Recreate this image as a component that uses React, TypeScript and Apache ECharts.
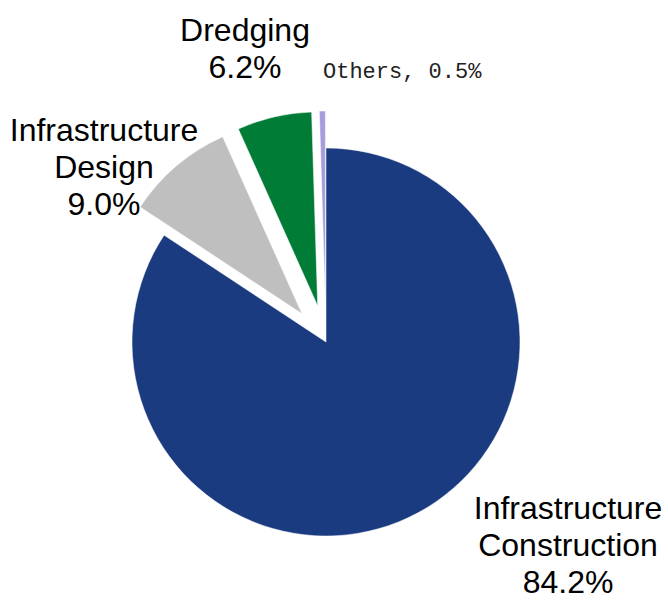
import React, { useEffect, useRef } from "react";
import * as echarts from "echarts";

const categories = ["Infrastructure\nConstruction", "Infrastructure\nDesign", "Dredging", "Others"];
const shares = [84.2, 9.0, 6.2, 0.5];
const exploded = [false, true, true, true];
const colors = ["#1b3b81", "#bfbfbf", "#007c36", "#a99cdc"];
// label anchor positions (px) and alignment
const labelPos: [number, number, string][] = [
  [568, 545, "center"],
  [104, 167, "center"],
  [245, 48, "center"],
  [323, 72, "left"],
];

export default function App() {
  const ref = useRef<HTMLDivElement>(null);
  useEffect(() => {
    if (!ref.current) return;
    const chart = echarts.init(ref.current, null, { renderer: "svg" });
    const data = categories.map((name, i) => ({
      name,
      value: shares[i],
      selected: exploded[i],
      itemStyle: { color: colors[i] },
      select: { itemStyle: { color: colors[i] } },
    }));
    const labels = categories.map((name, i) => {
      const isOthers = name === "Others";
      const [x, y, align] = labelPos[i];
      return {
        type: "text",
        x,
        y,
        silent: true,
        style: isOthers
          ? {
              text: `${name}, ${shares[i].toFixed(1)}%`,
              fontFamily: "Liberation Mono",
              fontSize: 22,
              fill: "#222",
              align,
              verticalAlign: "middle",
            }
          : {
              text: `${name}\n${shares[i].toFixed(1)}%`,
              fontFamily: "Liberation Sans, Arial, sans-serif",
              fontSize: 32,
              lineHeight: 37,
              fill: "#000",
              align,
              verticalAlign: "middle",
            },
      };
    });
    chart.setOption({
      animation: false,
      graphic: labels,
      series: [
        {
          type: "pie",
          center: [326, 342],
          radius: [0, 194],
          startAngle: 90,
          clockwise: true,
          selectedMode: "multiple",
          selectedOffset: 37,
          avoidLabelOverlap: false,
          emphasis: { disabled: true },
          itemStyle: { borderColor: "#fff", borderWidth: 0.5 },
          label: { show: false },
          labelLine: { show: false },
          data,
        },
      ],
    });
    return () => chart.dispose();
  }, []);
  return (
    <div
      ref={ref}
      style={{ position: "fixed", left: 0, top: 0, width: 668, height: 600, background: "#fff" }}
    />
  );
}
